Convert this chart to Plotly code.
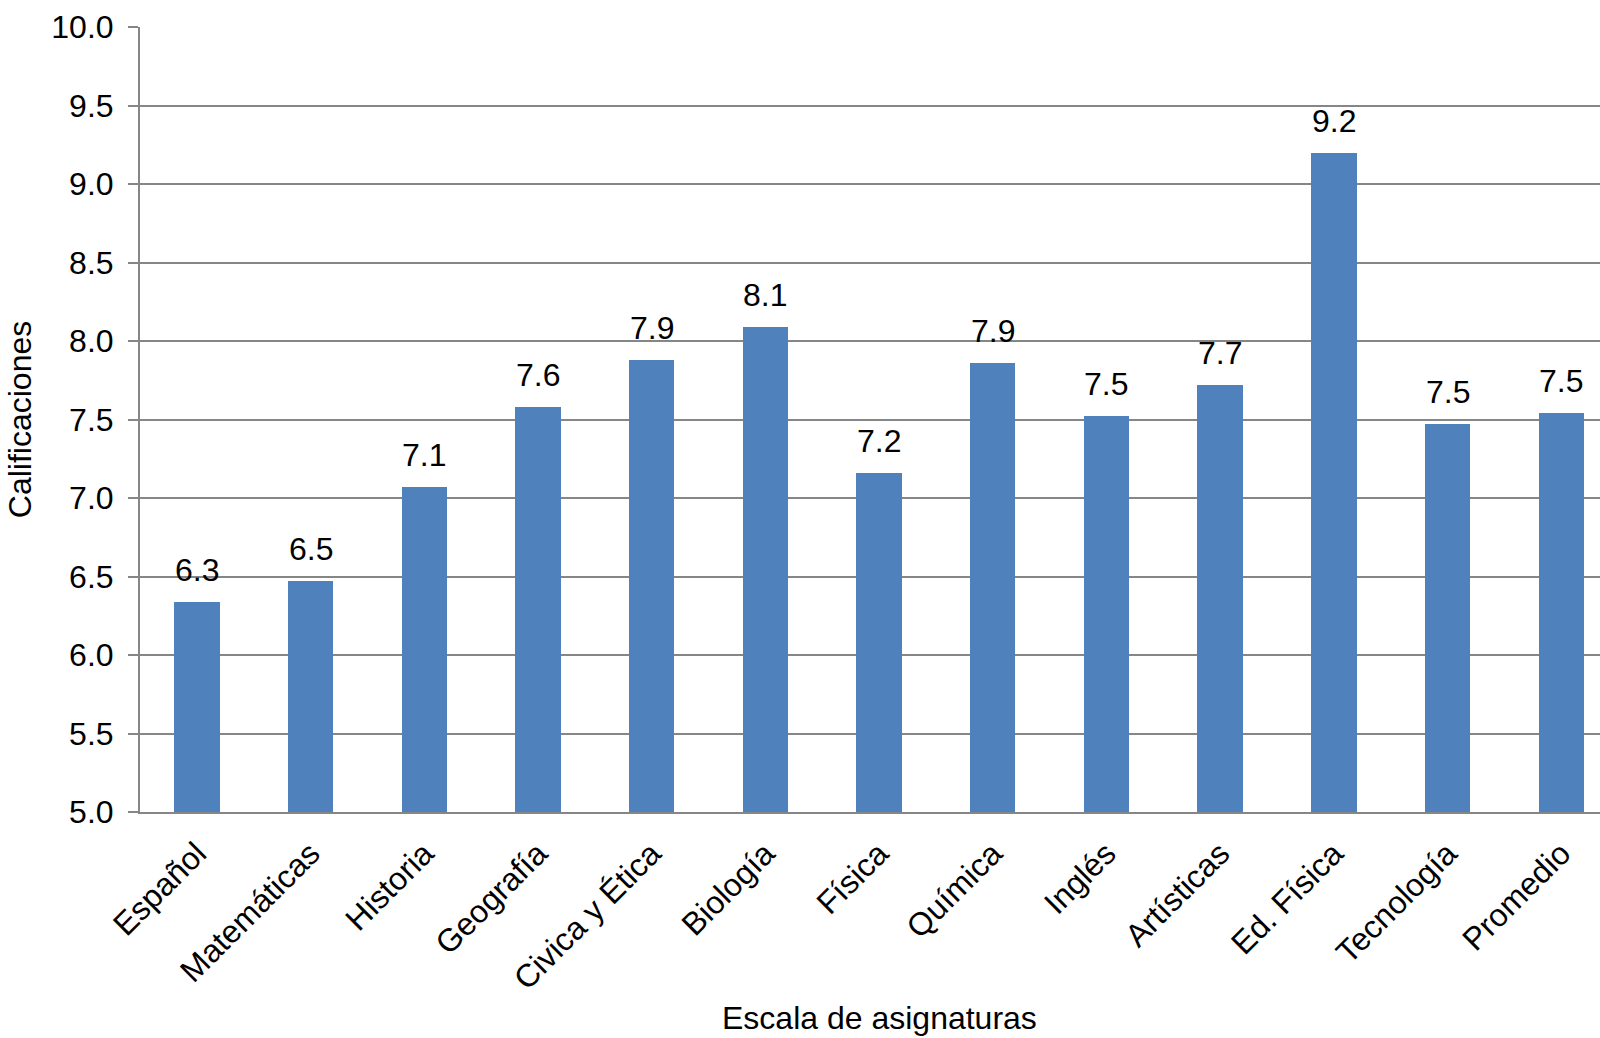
import plotly.graph_objects as go

# Subjects and average grades
asignaturas = ["Español", "Matemáticas", "Historia", "Geografía", "Civica y Ética",
               "Biología", "Física", "Química", "Inglés", "Artísticas", "Ed. Física",
               "Tecnología", "Promedio"]
calificaciones = [6.34, 6.47, 7.07, 7.58, 7.88, 8.09, 7.16, 7.86, 7.52, 7.72, 9.20, 7.47, 7.54]

y_ticks = [5.0, 5.5, 6.0, 6.5, 7.0, 7.5, 8.0, 8.5, 9.0, 9.5, 10.0]

FONT = "Liberation Sans, Arial, sans-serif"
FS = 32
GRID = "#868686"
BAR = "#4F81BD"

W, H = 1600, 1038
ML, MR, MT, MB = 140, 0, 27, 226

fig = go.Figure()
fig.add_trace(go.Bar(
    x=list(range(len(asignaturas))),
    y=calificaciones,
    width=0.4,
    marker=dict(color=BAR, line=dict(width=0)),
    hoverinfo="skip",
))

# value labels above each bar
for i, v in enumerate(calificaciones):
    fig.add_annotation(
        x=i, y=v, xref="x", yref="y",
        text=f"{v:.1f}", showarrow=False,
        yanchor="bottom", yshift=12,
        font=dict(family=FONT, size=FS, color="#000000"),
    )

# category width in pixels derived from a 13-slot axis wider than the page
slot = 113.7
x_right = (W - ML - MR) / slot - 0.5

fig.update_layout(
    width=W, height=H,
    margin=dict(l=ML, r=MR, t=MT, b=MB),
    paper_bgcolor="white", plot_bgcolor="white",
    showlegend=False,
    bargap=0,
    font=dict(family=FONT, size=FS, color="#000000"),
    xaxis=dict(
        range=[-0.5, x_right],
        tickmode="array",
        tickvals=list(range(len(asignaturas))),
        ticktext=asignaturas,
        tickangle=-45,
        ticks="",
        ticklabelstandoff=8,
        showgrid=False,
        showline=True, linecolor=GRID, linewidth=2,
        tickfont=dict(family=FONT, size=FS, color="#000000"),
        zeroline=False,
    ),
    yaxis=dict(
        range=[5, 10],
        tickmode="array",
        tickvals=y_ticks,
        ticktext=[f"{t:.1f}" for t in y_ticks],
        ticks="outside", ticklen=10, tickcolor=GRID, tickwidth=2,
        ticklabelstandoff=8,
        showgrid=True, gridcolor=GRID, gridwidth=2,
        showline=True, linecolor=GRID, linewidth=2,
        zeroline=False,
        tickfont=dict(family=FONT, size=FS, color="#000000"),
        title=dict(text="Calificaciones", font=dict(family=FONT, size=FS, color="#000000"),
                   standoff=10),
    ),
)

# x-axis title, centred on the full category span
fig.add_annotation(
    x=(6.0 + 0.5) / (x_right + 0.5), y=0, xref="paper", yref="paper",
    yshift=-(1018 - (H - MB)), yanchor="middle",
    text="Escala de asignaturas", showarrow=False,
    font=dict(family=FONT, size=FS, color="#000000"),
)

fig.write_html("out.html")
